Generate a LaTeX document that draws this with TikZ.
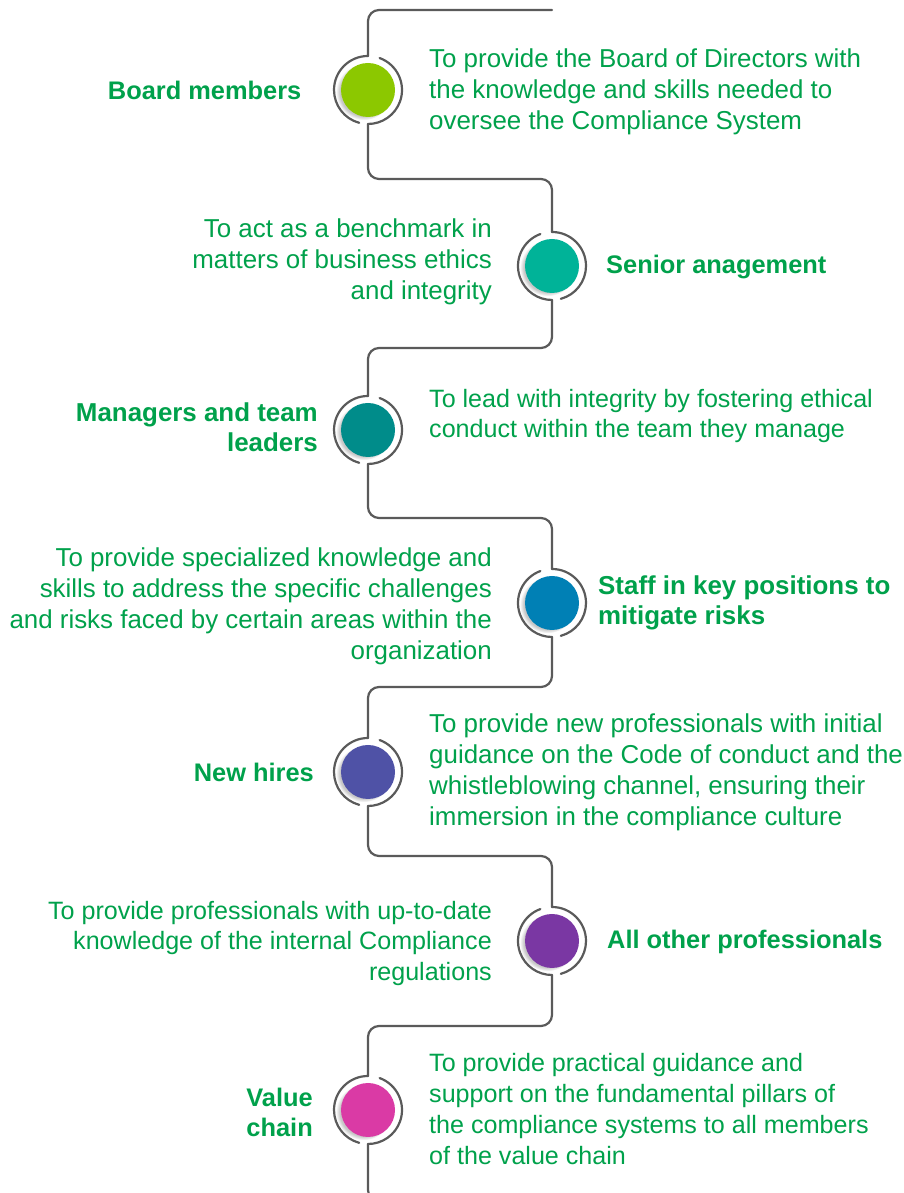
\documentclass[tikz,border=0pt]{standalone}
\usepackage{fontspec}
\setmainfont{Liberation Sans}
\usetikzlibrary{shadows,fadings}
\definecolor{txtgreen}{RGB}{0,161,75}
\definecolor{linegray}{HTML}{5A5A5A}
\definecolor{cA}{HTML}{8CC800}
\definecolor{cB}{HTML}{00B398}
\definecolor{cC}{HTML}{008C8A}
\definecolor{cD}{HTML}{0080B5}
\definecolor{cE}{HTML}{4F52A6}
\definecolor{cF}{HTML}{7A37A3}
\definecolor{cG}{HTML}{DA3AA5}
\tikzset{
  conn/.style={draw=linegray, line width=2.2pt, line cap=round, rounded corners=11pt},
  ringarc/.style={draw=linegray, line width=2.2pt, line cap=round},
  ringnode/.style={circle, minimum size=68pt, inner sep=0pt, outer sep=0pt},
  dot/.style={circle, minimum size=54pt, inner sep=0pt, outer sep=0pt, fill=#1,
    circular drop shadow={shadow xshift=-4pt, shadow yshift=-2pt, shadow scale=1.04, opacity=0.45}},
  desc/.style={text=txtgreen, inner sep=0pt, font=\fontsize{25.9}{31}\selectfont},
  descsmall/.style={text=txtgreen, inner sep=0pt, font=\fontsize{25.1}{30.7}\selectfont},
  lbl/.style={text=txtgreen, inner sep=0pt, font=\fontsize{25.4}{30}\selectfont\bfseries},
  lblbig/.style={text=txtgreen, inner sep=0pt, font=\fontsize{25.9}{30}\selectfont\bfseries},
}
\begin{document}
\begin{tikzpicture}[x=1pt,y=1pt]
\useasboundingbox (0,0) rectangle (904,1193);
% rings and dots
\foreach \n/\x/\y/\c in {1/368/1103/cA, 2/552/927/cB, 3/368/763/cC, 4/552/590/cD, 5/368/421/cE, 6/552/252/cF, 7/368/83/cG}{
  \node[ringnode] (r\n) at (\x,\y) {};
  \node[dot=\c] (d\n) at (\x,\y) {};
}
% left-side rings
\foreach \n in {1,3,5,7}{
  \draw[ringarc] (r\n.north) arc[start angle=90, end angle=255, radius=34pt];
  \draw[ringarc] (r\n.70) arc[start angle=70, end angle=-90, radius=34pt];
}
% right-side rings
\foreach \n in {2,4,6}{
  \draw[ringarc] (r\n.north) arc[start angle=90, end angle=-75, radius=34pt];
  \draw[ringarc] (r\n.110) arc[start angle=110, end angle=270, radius=34pt];
}
% connectors
\coordinate (top) at (552,1183);
\coordinate (h1) at (460,1014);
\coordinate (h2) at (460,845);
\coordinate (h3) at (460,675);
\coordinate (h4) at (460,506);
\coordinate (h5) at (460,337);
\coordinate (h6) at (460,167);
\coordinate (bot) at (410,-8);
\draw[conn] (top) -| (r1.north);
\draw[conn] (r1.south) |- (h1) -| (r2.north);
\draw[conn] (r2.south) |- (h2) -| (r3.north);
\draw[conn] (r3.south) |- (h3) -| (r4.north);
\draw[conn] (r4.south) |- (h4) -| (r5.north);
\draw[conn] (r5.south) |- (h5) -| (r6.north);
\draw[conn] (r6.south) |- (h6) -| (r7.north);
\draw[conn] (r7.south) |- (bot);
% labels
\node[lbl, anchor=east, align=right] (l1) at (301.5,1103) {Board members};
\node[lbl, anchor=west, align=left] (l2) at (606,926) {Senior anagement};
\node[lblbig, anchor=east, align=right] (l3) at (318,766) {Managers and team\\leaders};
\node[lblbig, anchor=west, align=left] (l4) at (598,590.5) {Staff in key positions to\\mitigate risks};
\node[lbl, anchor=east, align=right] (l5) at (314,421) {New hires};
\node[lbl, anchor=west, align=left] (l6) at (607,251) {All other professionals};
\node[lbl, anchor=east, align=right] (l7) at (313,81) {Value\\chain};
% descriptions
\node[desc, anchor=west, align=left] (t1) at (429,1101.5) {To provide the Board of Directors with\\the knowledge and skills needed to\\oversee the Compliance System};
\node[desc, anchor=east, align=right] (t2) at (492,931) {To act as a benchmark in\\matters of business ethics\\and integrity};
\node[descsmall, anchor=west, align=left] (t3) at (429,777) {To lead with integrity by fostering ethical\\conduct within the team they manage};
\node[desc, anchor=east, align=right] (t4) at (492,587) {To provide specialized knowledge and\\skills to address the specific challenges\\and risks faced by certain areas within the\\organization};
\node[desc, anchor=west, align=left] (t5) at (429,421) {To provide new professionals with initial\\guidance on the Code of conduct and the\\whistleblowing channel, ensuring their\\immersion in the compliance culture};
\node[descsmall, anchor=east, align=right] (t6) at (492,249.5) {To provide professionals with up-to-date\\knowledge of the internal Compliance\\regulations};
\node[descsmall, anchor=west, align=left] (t7) at (429,84) {To provide practical guidance and\\support on the fundamental pillars of\\the compliance systems to all members\\of the value chain};
\end{tikzpicture}
\end{document}
